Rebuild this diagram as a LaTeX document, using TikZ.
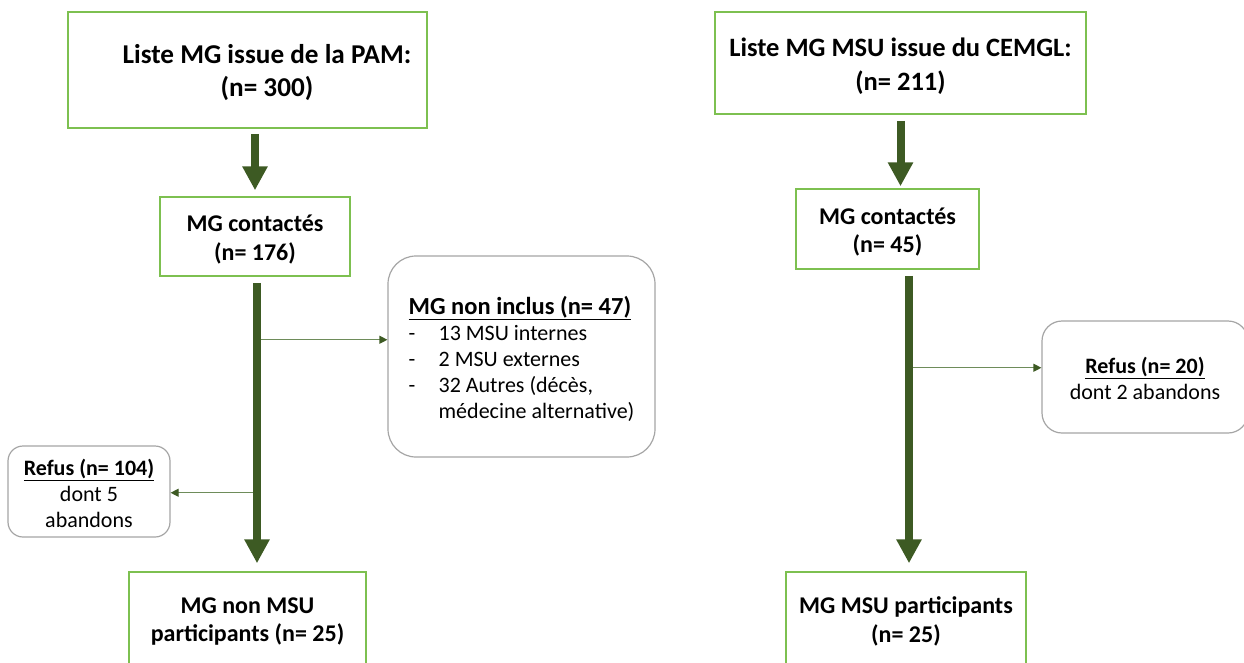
\documentclass[tikz,border=0pt]{standalone}
\usepackage{fontspec}
\setmainfont{Carlito}
\usetikzlibrary{arrows.meta}
\definecolor{boxgreen}{RGB}{125,192,80}
\definecolor{arrgreen}{RGB}{61,90,35}
\definecolor{thingreen}{RGB}{110,140,90}
\definecolor{roundgray}{RGB}{165,165,165}
\tikzset{
  gbox/.style={draw=boxgreen, line width=1.5pt, inner sep=0pt},
  rbox/.style={draw=roundgray, line width=1.2pt, rounded corners=#1, inner sep=0pt},
  txt/.style={inner sep=0pt, align=center},
  bigarrow/.style={draw=arrgreen, line width=8pt, -{Triangle[length=24pt,width=24pt]}},
  thinarrow/.style={draw=thingreen, line width=1.2pt, -{Triangle[length=8pt,width=8pt,color=arrgreen]}},
  topfont/.style={font=\bfseries\fontsize{26.5}{33.5}\selectfont},
  midfont/.style={font=\bfseries\fontsize{24}{28.5}\selectfont},
  sidefont/.style={font=\fontsize{22}{26}\selectfont},
}
\begin{document}
\begin{tikzpicture}[x=1pt,y=-1pt]
\useasboundingbox (0,0) rectangle (1244,662);
\clip (0,0) rectangle (1244,662);
% left column
\node[gbox, minimum width=359pt, minimum height=116pt] (l1) at (247.5,70) {};
\node[txt, font=\bfseries\fontsize{27.2}{33}\selectfont] (l1t) at ([xshift=19.5pt,yshift=-3pt]l1.center) {Liste MG issue de la PAM:\\(n= 300)};
\node[gbox, minimum width=190pt, minimum height=79pt] (l2) at (255,236.5) {};
\node[txt, midfont] (l2t) at ([yshift=-3pt]l2.center) {MG contactés\\(n= 176)};
\node[gbox, minimum width=237pt, minimum height=94pt] (l3) at (247.5,619) {};
\node[txt, midfont] (l3t) at ([yshift=-2.5pt]l3.center) {MG non MSU\\participants (n= 25)};
\node[rbox=28pt, minimum width=267pt, minimum height=201pt] (ni) at (521.5,356.5) {};
\node[txt, sidefont, align=left] (nit) at ([yshift=-2.5pt]ni.center)
  {{\fontsize{24.5}{26}\selectfont\textbf{\underline{MG non inclus (n= 47)}}}\\
   \makebox[30pt][l]{-}13 MSU internes\\
   \makebox[30pt][l]{-}2 MSU externes\\
   \makebox[30pt][l]{-}32 Autres (décès,\\
   \hspace*{30pt}médecine alternative)};
\node[rbox=15pt, minimum width=162pt, minimum height=91pt] (rl) at (89,491.5) {};
\node[txt, sidefont] (rlt) at ([yshift=-2pt]rl.center) {\textbf{\underline{Refus (n= 104)}}\\dont 5\\abandons};
\path (l2.south) ++(2,63) coordinate (bl1);
\path (l2.south) ++(2,216) coordinate (bl2);
\draw[thinarrow] ([xshift=4pt]bl1) -- (bl1 -| ni.west);
\draw[thinarrow] ([xshift=-4pt]bl2) -- (bl2 -| rl.east);
\draw[bigarrow, shorten <=5pt, shorten >=6pt] (l1.south -| l2.north) -- (l2.north);
\draw[bigarrow, shorten <=6pt, shorten >=8pt] ([xshift=2pt]l2.south) -- ([xshift=2pt]l2.south |- l3.north);
% right column
\node[gbox, minimum width=371pt, minimum height=102pt] (r1) at (900.5,63) {};
\node[txt, topfont] (r1t) at ([yshift=-3pt]r1.center) {Liste MG MSU issue du CEMGL:\\(n= 211)};
\node[gbox, minimum width=183pt, minimum height=80pt] (r2) at (887.5,229) {};
\node[txt, midfont] (r2t) at ([yshift=-3pt]r2.center) {MG contactés\\(n= 45)};
\node[gbox, minimum width=240pt, minimum height=94pt] (r3) at (906,619) {};
\node[txt, midfont] (r3t) at ([yshift=-2.5pt]r3.center) {MG MSU participants\\(n= 25)};
\node[rbox=20pt, minimum width=206pt, minimum height=112pt] (rr) at (1145,377) {};
\node[txt, sidefont] (rrt) at ([yshift=-1.5pt]rr.center) {\textbf{\underline{Refus (n= 20)}}\\dont 2 abandons};
\path (r2.south -| r3.north) ++(3,98) coordinate (br1);
\draw[thinarrow] ([xshift=4pt]br1) -- (br1 -| rr.west);
\draw[bigarrow, shorten <=6pt, shorten >=2pt] (r1.south) -- (r1.south |- r2.north);
\draw[bigarrow, shorten <=6pt, shorten >=8pt] ([xshift=3pt]r2.south -| r3.north) -- ([xshift=3pt]r3.north);
\end{tikzpicture}
\end{document}
